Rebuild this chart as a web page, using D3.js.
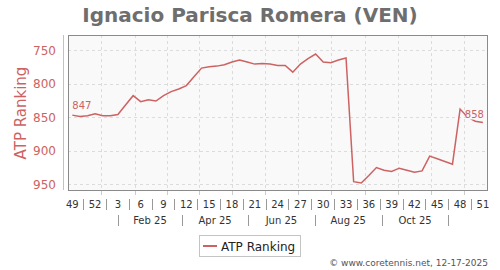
<!DOCTYPE html>
<html>
<head>
<meta charset="utf-8">
<script src="https://cdn.jsdelivr.net/npm/d3@7"></script>
<style>
  body { margin: 0; background: #fff; }
  svg { display: block; font-family: "DejaVu Sans", sans-serif; }
</style>
</head>
<body>
<div id="chart"></div>
<script>
// week numbers, one per weekly ranking (2024 wk 49 .. 2025 wk 51)
const weeks = [49, 50, 51, 52, 1, 2, 3, 4, 5, 6, 7, 8, 9, 10, 11, 12, 13, 14, 15, 16,
  17, 18, 19, 20, 21, 22, 23, 24, 25, 26, 27, 28, 29, 30, 31, 32, 33, 34, 35, 36,
  37, 38, 39, 40, 41, 42, 43, 44, 45, 46, 47, 48, 49, 50, 51];
const ranking = [847, 849, 848, 845, 848, 848, 846, 832, 818, 827, 824, 826, 818, 812, 808,
  803, 790, 777, 775, 774, 772, 768, 765, 768, 771, 770, 771, 773, 773, 783,
  771, 763, 756, 768, 769, 765, 762, 946, 948, 937, 925, 929, 931, 926, 929,
  932, 930, 908, 912, 916, 920, 838, 850, 856, 858];
const yTicks = [750, 800, 850, 900, 950];
const monthLabels = ["Feb 25", "Apr 25", "Jun 25", "Aug 25", "Oct 25"];
const playerName = "Ignacio Parisca Romera (VEN)";
const seriesName = "ATP Ranking";
const footer = "\u00a9 www.coretennis.net, 12-17-2025";

const width = 500, height = 270;
const plot = {left: 68, right: 487, top: 35, bottom: 190};
const lineColor = "#cd6262";

const start = new Date(Date.UTC(2024, 10, 20));
const dates = weeks.map((w, i) => d3.utcDay.offset(start, 7 * i));

const x = d3.scaleUtc()
  .domain([dates[0], dates[dates.length - 1]])
  .range([72.3, 482.9]);
const y = d3.scaleLinear().domain([750, 950]).range([50, 184.3]);

const svg = d3.select("#chart").append("svg")
  .attr("width", width).attr("height", height);

// title
svg.append("text")
  .attr("x", 250).attr("y", 22)
  .attr("text-anchor", "middle")
  .attr("font-size", 20).attr("font-weight", "bold")
  .attr("fill", "#6e6e6e")
  .text(playerName);

// plot background
svg.append("rect")
  .attr("x", plot.left + 0.5).attr("y", plot.top + 0.5)
  .attr("width", plot.right - plot.left).attr("height", plot.bottom - plot.top)
  .attr("fill", "#f9f9f9");

// vertical grid at month midpoints
const months = d3.utcMonth.range(new Date(Date.UTC(2024, 11, 1)), new Date(Date.UTC(2025, 11, 1)));
const mids = months.map(m => new Date((+m + +d3.utcMonth.offset(m, 1)) / 2));
svg.append("g").selectAll("line")
  .data(mids).enter().append("line")
  .attr("x1", d => Math.round(x(d)) + 0.5).attr("x2", d => Math.round(x(d)) + 0.5)
  .attr("y1", plot.top).attr("y2", plot.bottom)
  .attr("stroke", "#dcdcdc").attr("stroke-dasharray", "3,3");
svg.append("g").selectAll("line")
  .data(mids).enter().append("line")
  .attr("x1", d => Math.round(x(d)) + 0.5).attr("x2", d => Math.round(x(d)) + 0.5)
  .attr("y1", plot.bottom).attr("y2", plot.bottom + 5)
  .attr("stroke", "#cccccc");

// horizontal grid
svg.append("g").selectAll("line")
  .data(yTicks).enter().append("line")
  .attr("x1", plot.left).attr("x2", plot.right)
  .attr("y1", d => Math.round(y(d)) + 0.5).attr("y2", d => Math.round(y(d)) + 0.5)
  .attr("stroke", "#dcdcdc").attr("stroke-dasharray", "3,3");

// plot border
svg.append("rect")
  .attr("x", plot.left + 0.5).attr("y", plot.top + 0.5)
  .attr("width", plot.right - plot.left).attr("height", plot.bottom - plot.top)
  .attr("fill", "none").attr("stroke", "#8a8a8a");

// y axis
svg.append("line")
  .attr("x1", 63.5).attr("x2", 63.5).attr("y1", plot.top).attr("y2", plot.bottom)
  .attr("stroke", "#e3b4b4");
svg.append("g").selectAll("text")
  .data(yTicks).enter().append("text")
  .attr("x", 56).attr("y", d => y(d) + 4.5)
  .attr("text-anchor", "end")
  .attr("font-size", 12).attr("fill", lineColor)
  .text(d => d);
svg.append("text")
  .attr("transform", "translate(26,113) rotate(-90)")
  .attr("text-anchor", "middle")
  .attr("font-size", 15).attr("fill", lineColor)
  .text(seriesName);

// week labels (every third week) with separators
const shown = dates.map((d, i) => ({d, i})).filter(o => o.i % 3 === 0);
svg.append("g").selectAll("text")
  .data(shown).enter().append("text")
  .attr("x", o => x(o.d)).attr("y", 208)
  .attr("text-anchor", "middle")
  .attr("font-size", 10).attr("fill", "#333")
  .text(o => weeks[o.i]);
svg.append("g").selectAll("line")
  .data(shown.slice(1)).enter().append("line")
  .attr("x1", o => Math.round(x(d3.utcDay.offset(o.d, -10.5))) + 0.5)
  .attr("x2", o => Math.round(x(d3.utcDay.offset(o.d, -10.5))) + 0.5)
  .attr("y1", 199).attr("y2", 210)
  .attr("stroke", "#999");

// month row
const seps = d3.utcMonth.every(2).range(new Date(Date.UTC(2025, 0, 1)), new Date(Date.UTC(2025, 11, 2)));
svg.append("g").selectAll("line")
  .data(seps).enter().append("line")
  .attr("x1", d => Math.round(x(d)) + 0.5).attr("x2", d => Math.round(x(d)) + 0.5)
  .attr("y1", 215).attr("y2", 226)
  .attr("stroke", "#999");
svg.append("g").selectAll("text")
  .data(monthLabels).enter().append("text")
  .attr("x", (t, i) => (x(seps[i]) + x(seps[i + 1])) / 2).attr("y", 224)
  .attr("text-anchor", "middle")
  .attr("font-size", 10).attr("fill", "#333")
  .text(t => t);

// ranking line
const line = d3.line()
  .x((v, i) => x(dates[i]))
  .y(v => y(v));
svg.append("path")
  .datum(ranking)
  .attr("d", line)
  .attr("fill", "none")
  .attr("stroke", lineColor)
  .attr("stroke-width", 1.5);

// first / last value labels
const last = ranking.length - 1;
const ends = [
  {i: 0, dx: 0, dy: -6, anchor: "start"},
  {i: last, dx: 1, dy: -5, anchor: "end"}
];
const endG = svg.append("g").selectAll("g").data(ends).enter().append("g");
endG.append("rect")
  .attr("x", e => e.anchor === "start" ? x(dates[e.i]) - 1 : x(dates[e.i]) + e.dx - 18)
  .attr("y", e => y(ranking[e.i]) + e.dy - 9)
  .attr("width", 19).attr("height", 11)
  .attr("fill", "#f9f9f9");
endG.append("text")
  .attr("x", e => x(dates[e.i]) + e.dx)
  .attr("y", e => y(ranking[e.i]) + e.dy)
  .attr("text-anchor", e => e.anchor)
  .attr("font-size", 10).attr("fill", lineColor)
  .text(e => ranking[e.i]);

// legend
const lg = svg.append("g");
lg.append("rect")
  .attr("x", 199.5).attr("y", 235.5).attr("width", 101).attr("height", 21)
  .attr("fill", "#fff").attr("stroke", "#c4c4c4");
lg.append("line")
  .attr("x1", 203).attr("x2", 217).attr("y1", 246).attr("y2", 246)
  .attr("stroke", lineColor).attr("stroke-width", 2);
lg.append("text")
  .attr("x", 221).attr("y", 250.5)
  .attr("font-size", 12).attr("fill", "#222")
  .text(seriesName);

// footer
svg.append("text")
  .attr("x", 488).attr("y", 266)
  .attr("text-anchor", "end")
  .attr("font-size", 9).attr("fill", "#555")
  .text(footer);
</script>
</body>
</html>
